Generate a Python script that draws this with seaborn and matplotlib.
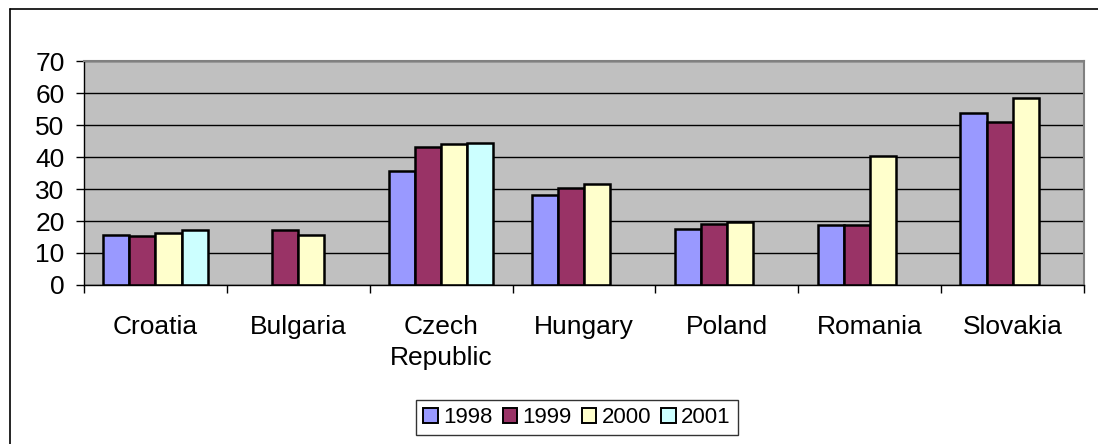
import matplotlib.pyplot as plt
import numpy as np
import pandas as pd
import seaborn as sns
from matplotlib.lines import Line2D

# Data
countries = ['Croatia', 'Bulgaria', 'Czech\nRepublic', 'Hungary', 'Poland', 'Romania', 'Slovakia']
years = ['1998', '1999', '2000', '2001']
v1998 = [15.6, np.nan, 35.6, 28.1, 17.6, 18.7, 53.9]
v1999 = [15.2, 17.3, 43.1, 30.2, 19.1, 18.7, 50.8]
v2000 = [16.1, 15.6, 44.2, 31.5, 19.6, 40.2, 58.3]
v2001 = [17.3, np.nan, 44.4, np.nan, np.nan, np.nan, np.nan]
colors = ['#9999FF', '#993366', '#FFFFCC', '#CCFFFF']

rows = []
for year, vals in zip(years, [v1998, v1999, v2000, v2001]):
    for c, v in zip(countries, vals):
        rows.append({'country': c, 'year': year, 'value': v})
df = pd.DataFrame(rows)

sns.set_style('white')
plt.rcParams['font.family'] = ['Liberation Sans', 'DejaVu Sans']
plt.rcParams['text.color'] = 'black'
plt.rcParams['xtick.color'] = 'black'
plt.rcParams['ytick.color'] = 'black'

fig = plt.figure(figsize=(10.98, 4.44), dpi=100)
ax = fig.add_axes([84 / 1098, 1 - 285 / 444, 1000 / 1098, 224 / 444])

sns.barplot(data=df, x='country', y='value', hue='year', order=countries,
            hue_order=years, palette=colors, width=0.73, ax=ax,
            edgecolor='black', linewidth=1.8, saturation=1, errorbar=None)

ax.set_facecolor('#C0C0C0')
ax.set_ylim(0, 70)
ax.set_xlim(-0.5, 6.5)
ax.set_yticks(range(0, 71, 10))
ax.yaxis.grid(True, color='black', linewidth=1)
ax.set_axisbelow(True)
ax.set_xlabel('')
ax.set_ylabel('')

for side in ['top', 'right']:
    ax.spines[side].set_color('#808080')
    ax.spines[side].set_linewidth(1.5)
for side in ['left', 'bottom']:
    ax.spines[side].set_color('black')
    ax.spines[side].set_linewidth(1)

ax.tick_params(axis='y', which='major', left=True, length=6, width=1,
               labelsize=19, pad=8)
ax.set_xticks(np.arange(-0.5, 7, 1), minor=True)
ax.tick_params(axis='x', which='major', bottom=False, labelsize=19, pad=18)
ax.tick_params(axis='x', which='minor', bottom=True, length=6, width=1,
               direction='out')
for lab in ax.get_xticklabels():
    lab.set_linespacing(1.4)

leg = ax.legend(loc='center', bbox_to_anchor=(577 / 1098, 1 - 417.5 / 444),
                bbox_transform=fig.transFigure, ncol=4, fontsize=16,
                frameon=True, fancybox=False, edgecolor='black',
                handlelength=0.65, handleheight=0.65, handletextpad=0.25,
                columnspacing=0.45, borderpad=0.3)
leg.get_frame().set_linewidth(1)
for h in leg.legend_handles:
    h.set_edgecolor('black')
    h.set_linewidth(1.4)

# outer chart frame (top and left edges visible)
fig.add_artist(Line2D([9.5 / 1098, 1.0], [1 - 9.5 / 444, 1 - 9.5 / 444],
                      transform=fig.transFigure, color='black', linewidth=1.2))
fig.add_artist(Line2D([9.5 / 1098, 9.5 / 1098], [0.0, 1 - 9.5 / 444],
                      transform=fig.transFigure, color='black', linewidth=1.2))

fig.savefig('out.png', dpi=100)
